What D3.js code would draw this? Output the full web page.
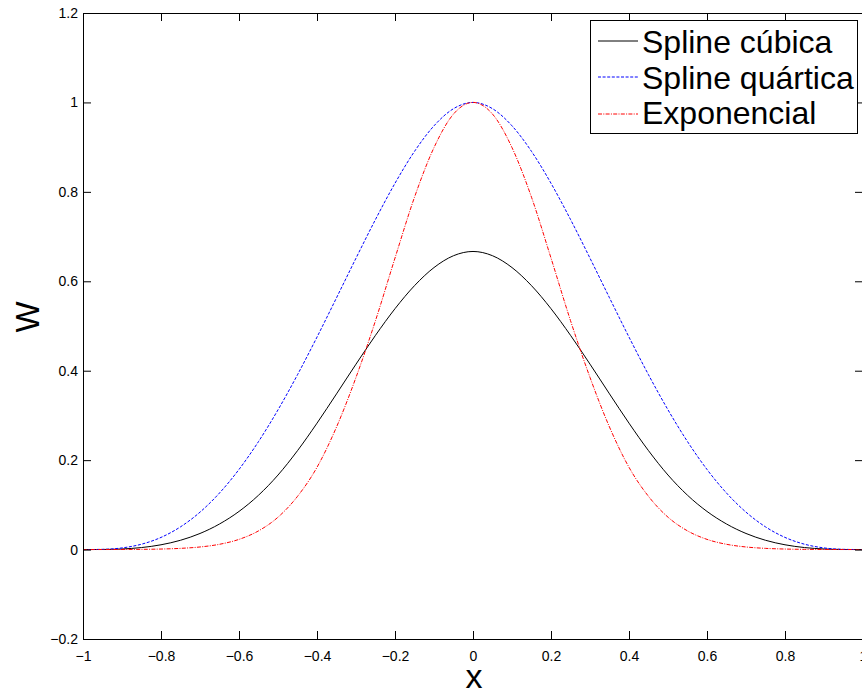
<!DOCTYPE html>
<html>
<head>
<meta charset="utf-8">
<script src="https://cdn.jsdelivr.net/npm/d3@7"></script>
<style>
  body { margin: 0; background: #fff; }
  svg { display: block; font-family: "Liberation Sans", Arial, sans-serif; }
</style>
</head>
<body>
<svg width="862" height="695"></svg>
<script>
const width = 862;
const height = 695;

// x positions of the samples
const xs = [-1, -0.95, -0.9, -0.85, -0.8, -0.75, -0.7, -0.65, -0.6, -0.55, -0.5,
    -0.45, -0.4, -0.35, -0.3, -0.25, -0.2, -0.15, -0.1, -0.05, 0,
    0.05, 0.1, 0.15, 0.2, 0.25, 0.3, 0.35, 0.4, 0.45, 0.5,
    0.55, 0.6, 0.65, 0.7, 0.75, 0.8, 0.85, 0.9, 0.95, 1];

// values
const cubica = [0, 0.0002, 0.0013, 0.0045, 0.0107, 0.0208, 0.036, 0.0572, 0.0853, 0.1215, 0.1667,
    0.2212, 0.2827, 0.3482, 0.4147, 0.4792, 0.5387, 0.5902, 0.6307, 0.6572, 0.6667,
    0.6572, 0.6307, 0.5902, 0.5387, 0.4792, 0.4147, 0.3482, 0.2827, 0.2212, 0.1667,
    0.1215, 0.0853, 0.0572, 0.036, 0.0208, 0.0107, 0.0045, 0.0013, 0.0002, 0];

const quartica = [0, 0.0005, 0.0037, 0.012, 0.0272, 0.0508, 0.0837, 0.1265, 0.1792, 0.2415, 0.3125,
    0.391, 0.4752, 0.563, 0.6517, 0.7383, 0.8192, 0.8905, 0.9477, 0.986, 1,
    0.986, 0.9477, 0.8905, 0.8192, 0.7383, 0.6517, 0.563, 0.4752, 0.391, 0.3125,
    0.2415, 0.1792, 0.1265, 0.0837, 0.0508, 0.0272, 0.012, 0.0037, 0.0005, 0];

const exponencial = [0, 0.0001, 0.0002, 0.0005, 0.0012, 0.0027, 0.0058, 0.0118, 0.0228, 0.0418, 0.0724,
    0.119, 0.184, 0.274, 0.385, 0.512, 0.652, 0.788, 0.899, 0.974, 1,
    0.974, 0.899, 0.788, 0.652, 0.512, 0.385, 0.274, 0.184, 0.119, 0.0724,
    0.0418, 0.0228, 0.0118, 0.0058, 0.0027, 0.0012, 0.0005, 0.0002, 0.0001, 0];

const xTicks = [-1, -0.8, -0.6, -0.4, -0.2, 0, 0.2, 0.4, 0.6, 0.8, 1];
const yTicks = [-0.2, 0, 0.2, 0.4, 0.6, 0.8, 1, 1.2];

const seriesNames = ["Spline cúbica", "Spline quártica", "Exponencial"];
const seriesColors = ["#000000", "#0000ff", "#ff0000"];
const seriesDash = [null, "3,1.6", "4,1.3,1,1.3"];

const pLeft = 83, pRight = 863, pTop = 13, pBottom = 639;

const svg = d3.select("svg");

const x = d3.scaleLinear().domain([-1, 1]).range([pLeft, pRight]);
const y = d3.scaleLinear().domain([-0.2, 1.2]).range([pBottom, pTop]);

const fmt = d => d3.format("")(+d.toFixed(1));

// curves
const series = [cubica, quartica, exponencial];
const line = d3.line()
    .x((d, i) => x(xs[i]))
    .y(d => y(d))
    .curve(d3.curveMonotoneX);

svg.append("g")
    .selectAll("path")
    .data(series)
    .join("path")
    .attr("d", d => line(d))
    .attr("fill", "none")
    .attr("stroke", (d, i) => seriesColors[i])
    .attr("stroke-width", 1)
    .attr("stroke-dasharray", (d, i) => seriesDash[i]);

// axes box with inward ticks
const tickLen = 8;
const gx = svg.append("g")
    .attr("transform", `translate(0,${pBottom})`)
    .call(d3.axisBottom(x).tickValues(xTicks).tickSizeInner(-tickLen).tickSizeOuter(0).tickPadding(12).tickFormat(fmt));
const gxTop = svg.append("g")
    .attr("transform", `translate(0,${pTop})`)
    .call(d3.axisTop(x).tickValues(xTicks).tickSizeInner(-tickLen).tickSizeOuter(0).tickFormat(""));
const gy = svg.append("g")
    .attr("transform", `translate(${pLeft},0)`)
    .call(d3.axisLeft(y).tickValues(yTicks).tickSizeInner(-tickLen).tickSizeOuter(0).tickPadding(5).tickFormat(fmt));
const gyRight = svg.append("g")
    .attr("transform", `translate(${pRight},0)`)
    .call(d3.axisRight(y).tickValues(yTicks).tickSizeInner(-tickLen).tickSizeOuter(0).tickFormat(""));

[gx, gxTop, gy, gyRight].forEach(g => {
    g.select(".domain").attr("stroke", "#000").attr("stroke-width", 1);
    g.selectAll(".tick line").attr("stroke", "#000").attr("stroke-width", 1);
    g.selectAll(".tick text")
        .attr("fill", "#000")
        .attr("font-size", "14px")
        .attr("font-family", "Liberation Sans, Arial, sans-serif");
});

// axis titles
svg.append("text")
    .attr("x", x(0) + 1)
    .attr("y", 688)
    .attr("text-anchor", "middle")
    .attr("font-size", "34px")
    .text("x");

svg.append("text")
    .attr("transform", `translate(39,${y(0.5) - 9}) rotate(-90)`)
    .attr("text-anchor", "middle")
    .attr("font-size", "33px")
    .text("W");

// legend
const legend = svg.append("g");
legend.append("rect")
    .attr("x", 590.5)
    .attr("y", 20.5)
    .attr("width", 267)
    .attr("height", 113)
    .attr("fill", "#fff")
    .attr("stroke", "#000")
    .attr("stroke-width", 1);

const rowY = [41, 77, 114];
const rows = legend.selectAll("g.row")
    .data(seriesNames)
    .join("g")
    .attr("class", "row")
    .attr("transform", (d, i) => `translate(0,${rowY[i]})`);

rows.append("line")
    .attr("x1", 598)
    .attr("x2", 638)
    .attr("stroke", (d, i) => seriesColors[i])
    .attr("stroke-width", 1)
    .attr("stroke-dasharray", (d, i) => seriesDash[i]);

rows.append("text")
    .attr("x", 642)
    .attr("y", (d, i) => [12, 11.5, 9.5][i])
    .attr("font-size", "32px")
    .attr("fill", "#000")
    .text(d => d);
</script>
</body>
</html>
